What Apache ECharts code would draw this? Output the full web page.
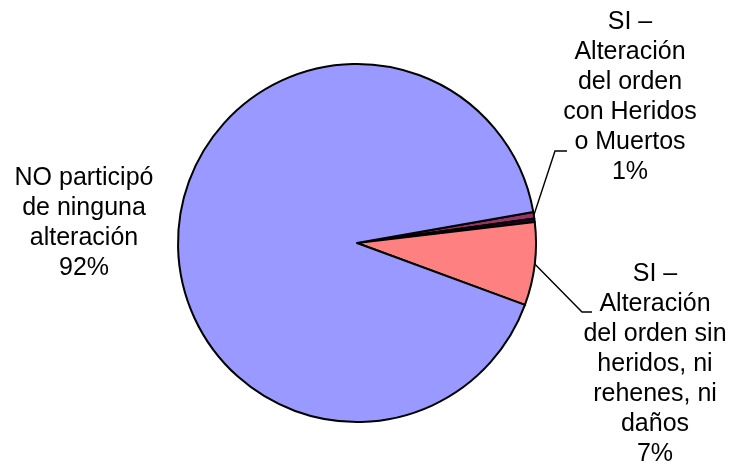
<!DOCTYPE html>
<html>
<head>
<meta charset="utf-8">
<script src="https://cdn.jsdelivr.net/npm/echarts@6/dist/echarts.min.js"></script>
<style>html,body{margin:0;padding:0;background:#fff;}#c{width:745px;height:472px;}</style>
</head>
<body>
<div id="c"></div>
<script>
// Data (slice order as drawn clockwise, starting just above 3 o'clock)
const categories = [
  "SI –\nAlteración\ndel orden\ncon Heridos\no Muertos",
  "SI – otros",
  "SI –\nAlteración\ndel orden sin\nheridos, ni\nrehenes, ni\ndaños",
  "NO participó\nde ninguna\nalteración"
];
const values = [0.6, 0.3, 7.5, 91.6];
const colors = ["#993366", "#330033", "#FF8080", "#9999FF"];
const showLabel = [true, false, true, true];

// Label placement (layout only): label centre and leader-line elbow points
const labelPlacement = [
  { x: 630, y: 97, line: [[555, 151], [567, 151]] },
  null,
  { x: 655, y: 364, line: [[582, 312], [592, 312]] },
  { x: 84, y: 223, line: null }
];

const chart = echarts.init(document.getElementById('c'), null, { renderer: 'canvas' });
chart.setOption({
  animation: false,
  backgroundColor: '#ffffff',
  series: [{
    type: 'pie',
    center: [357, 243],
    radius: 179,
    startAngle: 10,
    clockwise: true,
    avoidLabelOverlap: false,
    percentPrecision: 0,
    itemStyle: { borderColor: '#000', borderWidth: 2 },
    label: {
      show: true,
      position: 'outside',
      formatter: '{b}\n{d}%',
      fontFamily: '"Liberation Sans", Arial, sans-serif',
      fontSize: 25,
      lineHeight: 30,
      color: '#000',
      align: 'center'
    },
    labelLine: { show: true, lineStyle: { color: '#000', width: 1.4 }, smooth: false },
    labelLayout: function (p) {
      const pl = labelPlacement[p.dataIndex];
      if (!pl) return {};
      const res = { x: pl.x, y: pl.y, align: 'center', verticalAlign: 'middle' };
      if (pl.line && p.labelLinePoints) {
        res.labelLinePoints = [p.labelLinePoints[0], pl.line[0], pl.line[1]];
      }
      return res;
    },
    data: categories.map((c, i) => ({
      name: c,
      value: values[i],
      itemStyle: { color: colors[i] },
      label: { show: showLabel[i] },
      labelLine: { show: showLabel[i] && i !== 3 }
    }))
  }]
});
</script>
</body>
</html>
